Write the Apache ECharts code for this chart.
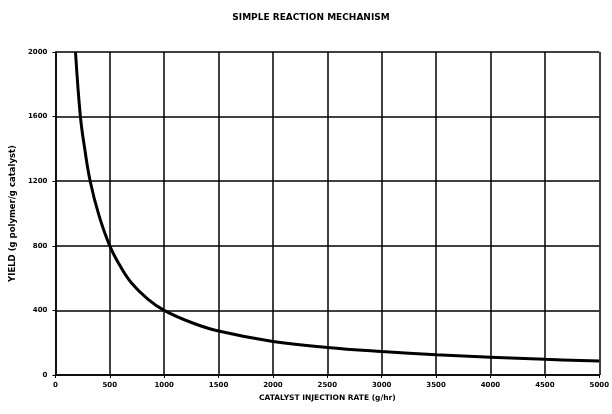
<!DOCTYPE html>
<html><head><meta charset="utf-8">
<script src="https://cdn.jsdelivr.net/npm/echarts@6/dist/echarts.min.js"></script>
<style>html,body{margin:0;padding:0;background:#fff}#c{width:612px;height:414px}</style>
</head><body><div id="c"></div>
<script>
var rate = [185, 230, 270, 320, 400, 500, 600, 700, 850, 1000, 1250, 1500, 2000, 2500, 3000, 3500, 4000, 4500, 5000];
var yieldVals = [2000, 1600, 1400, 1200, 990, 800, 670, 570, 470, 400, 325, 272, 207, 170, 145, 125, 110, 97, 86];
var xTicks = [0, 500, 1000, 1500, 2000, 2500, 3000, 3500, 4000, 4500, 5000];
var yTicks = [0, 400, 800, 1200, 1600, 2000];
var chart = echarts.init(document.getElementById('c'));
var font = 'DejaVu Sans';
chart.setOption({
  animation: false,
  backgroundColor: '#fff',
  title: {text: 'SIMPLE REACTION MECHANISM', left: 306, top: 8, textAlign: 'center',
    textStyle: {fontFamily: font, fontSize: 9, fontWeight: 'bold', color: '#000'}},
  grid: {left: 53, right: 10, top: 52, bottom: 39},
  xAxis: {type: 'value', min: 0, max: 5000, interval: 500,
    name: 'CATALYST INJECTION RATE (g/hr)', nameLocation: 'middle', nameGap: 18,
    nameTextStyle: {fontFamily: font, fontSize: 7.5, fontWeight: 'bold', color: '#000'},
    axisLine: {show: true, lineStyle: {color: '#000', width: 1.5}},
    axisTick: {show: true, length: 3, lineStyle: {color: '#000'}},
    axisLabel: {fontFamily: font, fontSize: 7, fontWeight: 'bold', color: '#000', margin: 7,
      formatter: function(v){ return xTicks.indexOf(v) >= 0 ? String(v) : ''; }},
    splitLine: {show: true, lineStyle: {color: '#000', width: 1.5}}},
  yAxis: {type: 'value', min: 0, max: 2000, interval: 400,
    name: 'YIELD (g polymer/g catalyst)', nameLocation: 'middle', nameGap: 38,
    nameTextStyle: {fontFamily: font, fontSize: 8.5, fontWeight: 'bold', color: '#000'},
    axisLine: {show: true, lineStyle: {color: '#000', width: 1.5}},
    axisTick: {show: true, length: 3, lineStyle: {color: '#000'}},
    axisLabel: {fontFamily: font, fontSize: 7, fontWeight: 'bold', color: '#000', margin: 8,
      formatter: function(v){ return yTicks.indexOf(v) >= 0 ? String(v) : ''; }},
    splitLine: {show: true, lineStyle: {color: '#000', width: 1.5}}},
  series: [{type: 'line', smooth: 0.4, showSymbol: false,
    data: rate.map(function(r, i){ return [r, yieldVals[i]]; }),
    lineStyle: {color: '#000', width: 3}}]
});
</script></body></html>
